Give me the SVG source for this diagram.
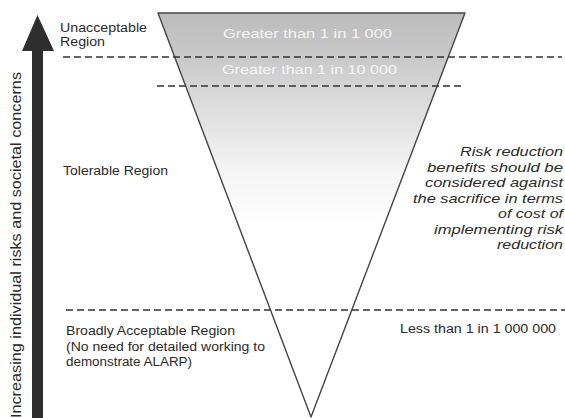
<svg xmlns="http://www.w3.org/2000/svg" width="565" height="418" viewBox="0 0 565 418">
<style>
.lbl{font-family:"Liberation Sans",Arial,sans-serif;font-size:12.5px;fill:#2a2a2a}
.band{font-family:"Liberation Sans",Arial,sans-serif;font-size:13px;fill:#ffffff;fill-opacity:0.85}
.note{font-family:"Liberation Sans",Arial,sans-serif;font-size:13px;font-style:italic;fill:#2a2a2a;text-anchor:end}
.axis{font-family:"Liberation Sans",Arial,sans-serif;font-size:14px;fill:#2a2a2a}
.dash{stroke:#333;stroke-width:1.6;stroke-dasharray:7 4;fill:none}
.edge{stroke:#444;stroke-width:1.4;fill:none;stroke-linejoin:round}
</style>
<defs>
<linearGradient id="g" gradientUnits="userSpaceOnUse" x1="0" y1="13" x2="0" y2="300">
<stop offset="0" stop-color="#bcbcbc"/>
<stop offset="0.15" stop-color="#c8c8c8"/>
<stop offset="0.3" stop-color="#dadada"/>
<stop offset="0.55" stop-color="#f4f4f4"/>
<stop offset="0.75" stop-color="#ffffff"/>
</linearGradient>
</defs>
<rect width="565" height="418" fill="#ffffff"/>
<g id="triangle">
<polygon points="158,13 465,13 311,417" fill="url(#g)"/>
<polygon class="edge" points="158,13 465,13 311,417"/>
<text class="band" x="223" y="38" textLength="169" lengthAdjust="spacingAndGlyphs">Greater than 1 in 1 000</text>
<text class="band" x="222" y="74" textLength="175" lengthAdjust="spacingAndGlyphs">Greater than 1 in 10 000</text>
</g>
<g id="connectors">
<line class="dash" x1="63" y1="57" x2="562" y2="57"/>
<line class="dash" x1="157" y1="86" x2="462" y2="86"/>
<line class="dash" x1="66" y1="310" x2="565" y2="310"/>
</g>
<g id="axis">
<polygon points="37.5,15 54,51 43,51 43,418 32,418 32,51 22,51" fill="#2e2e2e"/>
<text class="axis" transform="translate(21,418) rotate(-90)" x="0" y="0" textLength="346" lengthAdjust="spacingAndGlyphs">Increasing individual risks and societal concerns</text>
</g>
<g id="unacceptable">
<text class="lbl" x="60" y="32" textLength="87" lengthAdjust="spacingAndGlyphs">Unacceptable</text>
<text class="lbl" x="60" y="46" textLength="45" lengthAdjust="spacingAndGlyphs">Region</text>
</g>
<g id="tolerable">
<text class="lbl" x="63" y="175" textLength="105" lengthAdjust="spacingAndGlyphs">Tolerable Region</text>
</g>
<g id="broadly">
<text class="lbl" x="66" y="335" textLength="169" lengthAdjust="spacingAndGlyphs">Broadly Acceptable Region</text>
<text class="lbl" x="66" y="351" textLength="199" lengthAdjust="spacingAndGlyphs">(No need for detailed working to</text>
<text class="lbl" x="66" y="366" textLength="126" lengthAdjust="spacingAndGlyphs">demonstrate ALARP)</text>
</g>
<g id="less">
<text class="lbl" x="400" y="333" textLength="156" lengthAdjust="spacingAndGlyphs">Less than 1 in 1 000 000</text>
</g>
<g id="note">
<text class="note" x="563" y="156" textLength="103" lengthAdjust="spacingAndGlyphs">Risk reduction</text>
<text class="note" x="563" y="171.5" textLength="136" lengthAdjust="spacingAndGlyphs">benefits should be</text>
<text class="note" x="563" y="187" textLength="138" lengthAdjust="spacingAndGlyphs">considered against</text>
<text class="note" x="563" y="202.5" textLength="150" lengthAdjust="spacingAndGlyphs">the sacrifice in terms</text>
<text class="note" x="563" y="218" textLength="65" lengthAdjust="spacingAndGlyphs">of cost of</text>
<text class="note" x="563" y="233.5" textLength="129" lengthAdjust="spacingAndGlyphs">implementing risk</text>
<text class="note" x="563" y="249" textLength="66" lengthAdjust="spacingAndGlyphs">reduction</text>
</g>
</svg>
